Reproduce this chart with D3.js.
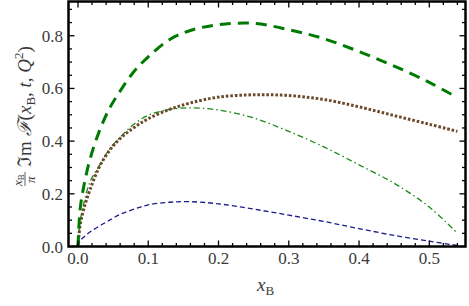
<!DOCTYPE html>
<html lang="en">
	<head>
		<meta charset="utf-8">
		<title>Im F vs xB</title>
		<script type="text/javascript" src="https://d3js.org/d3.v7.min.js"></script>
		<style type="text/css">
			body { margin: 0; background: #fff; }
			text { font-family: "Liberation Serif", "DejaVu Serif", serif; fill: #3a3a3a; }
		</style>
	</head>
	<body>
		<script type="text/javascript">
			//x values shared by all curves
			var xB = [0, 0.003, 0.008, 0.017, 0.03, 0.045, 0.06, 0.08, 0.1, 0.13, 0.16, 0.2, 0.25, 0.3, 0.35, 0.4, 0.45, 0.5, 0.54];

			//curve values
			var thickDashed = [0, 0.14, 0.225, 0.33, 0.435, 0.525, 0.59, 0.665, 0.72, 0.785, 0.82, 0.842, 0.847, 0.823, 0.789, 0.74, 0.685, 0.623, 0.565];
			var brownDotted = [0, 0.08, 0.14, 0.215, 0.30, 0.365, 0.41, 0.452, 0.485, 0.52, 0.545, 0.567, 0.576, 0.573, 0.558, 0.53, 0.497, 0.464, 0.437];
			var greenDashDot = [0, 0.09, 0.16, 0.245, 0.305, 0.37, 0.415, 0.465, 0.498, 0.52, 0.526, 0.518, 0.488, 0.437, 0.378, 0.31, 0.24, 0.15, 0.05];
			var blueDashed = [0, 0.02, 0.035, 0.055, 0.077, 0.1, 0.122, 0.142, 0.158, 0.168, 0.17, 0.162, 0.142, 0.119, 0.095, 0.068, 0.042, 0.02, 0.004];

			//tick labels
			var xTicks = [0, 0.1, 0.2, 0.3, 0.4, 0.5];
			var yTicks = [0, 0.2, 0.4, 0.6, 0.8];

			var w = 469;
			var h = 306;
			//plot frame (note: "top" is taken by window.top)
			var pLeft = 68.5, pRight = 465.5, pTop = 1.5, pBottom = 246.5;

			var x = d3.scaleLinear().domain([-0.0135, 0.5515]).range([pLeft, pRight]);
			var y = d3.scaleLinear().domain([0, 0.93]).range([pBottom, pTop]);

			var svg = d3.select("body")
						.append("svg")
						.attr("width", w)
						.attr("height", h);

			svg.append("defs").append("clipPath")
				.attr("id", "clip")
				.append("rect")
				.attr("x", pLeft).attr("y", pTop)
				.attr("width", pRight - pLeft).attr("height", pBottom - pTop);

			//curves
			var series = [
				{ values: blueDashed, color: "#1c1c8c", width: 1.3, dash: "5,3" },
				{ values: greenDashDot, color: "#1a8a1a", width: 1.3, dash: "6,3,1.5,3" },
				{ values: brownDotted, color: "#6b4a2c", width: 3, dash: "2.6,1.9" },
				{ values: thickDashed, color: "#007a00", width: 3, dash: "11,7" }
			];

			var line = d3.line()
				.x(function(d, i) { return x(xB[i]); })
				.y(function(d) { return y(d); })
				.curve(d3.curveCatmullRom.alpha(0.5));

			svg.append("g")
				.attr("clip-path", "url(#clip)")
				.selectAll("path")
				.data(series)
				.enter()
				.append("path")
				.attr("d", function(d) { return line(d.values); })
				.attr("fill", "none")
				.attr("stroke", function(d) { return d.color; })
				.attr("stroke-width", function(d) { return d.width; })
				.attr("stroke-dasharray", function(d) { return d.dash; });

			//ticks inside the frame, on all four sides
			var xMinor = d3.range(0, 0.551, 0.02);
			var yMinor = d3.range(0, 0.93, 0.05);
			var isMajorX = function(v) { return Math.abs(v * 10 - Math.round(v * 10)) < 1e-6; };
			var isMajorY = function(v) { return Math.abs(v * 5 - Math.round(v * 5)) < 1e-6; };

			var ticks = svg.append("g").attr("stroke", "#000").attr("stroke-width", 1.3);
			xMinor.forEach(function(v) {
				var len = isMajorX(v) ? 6 : 3.5;
				ticks.append("line").attr("x1", x(v)).attr("x2", x(v)).attr("y1", pBottom).attr("y2", pBottom - len);
				ticks.append("line").attr("x1", x(v)).attr("x2", x(v)).attr("y1", pTop).attr("y2", pTop + len);
			});
			yMinor.forEach(function(v) {
				var len = isMajorY(v) ? 6 : 3.5;
				ticks.append("line").attr("y1", y(v)).attr("y2", y(v)).attr("x1", pLeft).attr("x2", pLeft + len);
				ticks.append("line").attr("y1", y(v)).attr("y2", y(v)).attr("x1", pRight).attr("x2", pRight - len);
			});

			//frame
			svg.append("rect")
				.attr("x", pLeft).attr("y", pTop)
				.attr("width", pRight - pLeft).attr("height", pBottom - pTop)
				.attr("fill", "none")
				.attr("stroke", "#000")
				.attr("stroke-width", 2.5);

			//tick labels
			svg.selectAll(".xl")
				.data(xTicks)
				.enter()
				.append("text")
				.attr("x", function(d) { return x(d); })
				.attr("y", 264)
				.attr("text-anchor", "middle")
				.style("font-size", "17px")
				.text(function(d) { return d.toFixed(1); });

			svg.selectAll(".yl")
				.data(yTicks)
				.enter()
				.append("text")
				.attr("x", 63)
				.attr("y", function(d) { return y(d) + 6; })
				.attr("text-anchor", "end")
				.style("font-size", "17px")
				.text(function(d) { return d.toFixed(1); });

			//x axis title
			var xt = svg.append("text")
				.attr("x", 257)
				.attr("y", 291)
				.style("font-size", "19px");
			xt.append("tspan").style("font-style", "italic").text("x");
			xt.append("tspan").attr("dy", 4).style("font-size", "13px").text("B");

			//y axis title, rotated
			var yg = svg.append("g").attr("transform", "translate(27,118) rotate(-90)");
			var fr = yg.append("g");
			var num = fr.append("text").attr("x", 0).attr("y", -4).style("font-size", "13px");
			num.append("tspan").style("font-style", "italic").text("x");
			num.append("tspan").attr("dy", 2).style("font-size", "9px").text("B");
			fr.append("line").attr("x1", 0).attr("x2", 14).attr("y1", -1).attr("y2", -1)
				.attr("stroke", "#3a3a3a").attr("stroke-width", 0.8);
			fr.append("text").attr("x", 3).attr("y", 9).style("font-size", "13px").style("font-style", "italic").text("π");

			var yt = yg.append("text").attr("x", 19).attr("y", 5).style("font-size", "19px");
			yt.append("tspan").text("\u2111m ");
			yt.append("tspan").style("font-style", "italic").text("\u2131");
			yt.append("tspan").text("(");
			yt.append("tspan").style("font-style", "italic").text("x");
			yt.append("tspan").attr("dy", 4).style("font-size", "13px").text("B");
			yt.append("tspan").attr("dy", -4).text(", ");
			yt.append("tspan").style("font-style", "italic").text("t");
			yt.append("tspan").text(", ");
			yt.append("tspan").style("font-style", "italic").text("Q");
			yt.append("tspan").attr("dy", -8).style("font-size", "13px").text("2");
			yt.append("tspan").attr("dy", 8).text(")");

			//center the whole y title on the plot height
			var total = 19 + yt.node().getComputedTextLength();
			yg.attr("transform", "translate(26," + (116 + total / 2) + ") rotate(-90)");
		</script>
	</body>
</html>
